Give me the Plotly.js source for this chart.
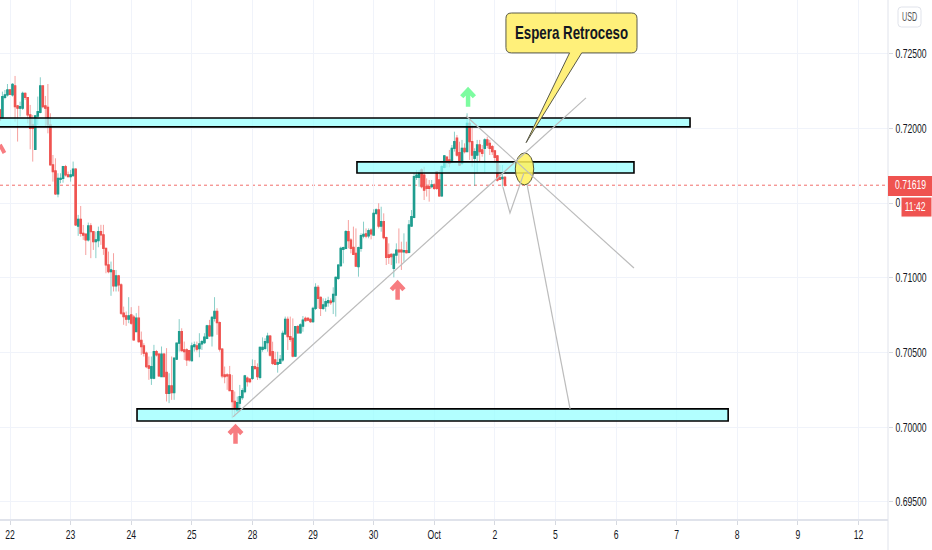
<!DOCTYPE html>
<html><head><meta charset="utf-8">
<script src="https://cdn.plot.ly/plotly-3.0.1.min.js"></script>
<style>html,body{margin:0;padding:0;background:#fff}#c{width:932px;height:550px}</style></head>
<body><div id="c"></div>
<script>
const firstHour = -4;
const opens = [.72123,.72067,.72207,.72223,.72256,.72223,.72283,.72149,.72134,.72134,.72234,.72205,.72089,.72022,.71859,.72082,.72107,.72283,.72149,.72140,.72022,.71755,.71714,.71561,.71658,.71665,.71743,.71688,.71677,.71683,.71726,.71346,.71391,.71297,.71291,.71253,
.71347,.71309,.71242,.71249,.71309,.71287,.71197,.71086,.71041,.71048,.70945,.71012,.70952,.70763,.70745,.70723,.70751,.70736,.70640,.70729,.70580,.70544,.70495,.70410,.70328,.70328,.70506,.70488,.70339,.70488,.70366,.70227,.70276,.70232,.70455,.70562,.70640,.70517,.70517,.70513,.70446,.70540,.70544,.70526,.70557,.70566,.70595,.70678,.70611,.70729,.70774,.70700,.70522,.70350,.70350,.70350,.70245,.70172,.70111,.70161,.70198,.70239,.70328,.70321,
.70327,.70405,.70398,.70334,.70521,.70528,.70566,.70610,.70505,.70450,.70423,.70427,.70450,.70624,.70722,.70606,.70595,.70476,.70673,.70632,.70677,.70728,.70728,.70722,.70706,.70795,.70936,.70869,.70795,.70811,.70833,.70844,.70840,.70884,.70996,.71081,.71190,.71197,.71308,.71252,.71203,.71163,.71074,.71197,.71279,.71293,.71281,.71319,.71286,.71431,.71453,.71346,.71375,.71268,.71152,.71156,.71063,.71152,.71185,.71185,.71174,.71181,.71170,.71346,
.71404,.71672,.71672,.71721,.71687,.71609,.71609,.71609,.71621,.71710,.71654,.71547,.71739,.71806,.71788,.71777,.71866,.71933,.71837,.71765,.71866,.71844,.72033,.71910,.71799,.71821,.71888,.71855,.71866,.71922,.71899,.71877,.71848,.71815,.71670,.71663,.71672];
const highs = [.72130,.72245,.72256,.72296,.72260,.72301,.72350,.72156,.72178,.72245,.72238,.72205,.72156,.72089,.72089,.72212,.72341,.72283,.72216,.72296,.72100,.71821,.71799,.71699,.71699,.71748,.71755,.71710,.71721,.71777,.71732,.71420,.71480,.71353,.71291,.71369,
.71365,.71309,.71309,.71342,.71354,.71354,.71197,.71175,.71108,.71164,.71052,.71019,.70963,.70807,.70774,.70870,.70803,.70751,.70763,.70812,.70640,.70562,.70506,.70473,.70473,.70551,.70517,.70495,.70540,.70495,.70529,.70361,.70473,.70462,.70562,.70723,.70662,.70573,.70528,.70517,.70566,.70573,.70573,.70629,.70584,.70629,.70685,.70718,.70745,.70870,.70796,.70707,.70528,.70406,.70361,.70410,.70350,.70239,.70205,.70283,.70261,.70350,.70339,.70328,
.70454,.70450,.70427,.70539,.70601,.70595,.70632,.70617,.70572,.70505,.70505,.70483,.70646,.70740,.70740,.70740,.70728,.70677,.70684,.70695,.70744,.70740,.70737,.70728,.70806,.70963,.70951,.70873,.70862,.70862,.70873,.70862,.70936,.71007,.71090,.71208,.71208,.71319,.71386,.71264,.71342,.71330,.71208,.71297,.71375,.71330,.71330,.71330,.71458,.71464,.71498,.71475,.71431,.71275,.71230,.71163,.71163,.71230,.71330,.71241,.71297,.71241,.71386,.71453,
.71699,.71721,.71721,.71732,.71743,.71665,.71654,.71654,.71632,.71710,.71721,.71754,.71821,.71810,.71855,.71888,.71977,.71955,.71910,.71922,.71899,.72100,.72067,.72022,.71866,.71922,.71922,.71888,.71933,.71944,.71922,.71888,.71855,.71821,.71754,.71754,.71681];
const lows = [.72050,.72067,.72194,.72212,.72223,.72212,.72044,.71911,.72078,.72123,.72189,.72033,.71859,.71777,.71855,.72022,.72100,.72134,.72011,.71966,.71755,.71643,.71554,.71538,.71632,.71636,.71677,.71672,.71643,.71677,.71346,.71280,.71275,.71253,.71152,.71242,
.71131,.71186,.71131,.71204,.71220,.71153,.71030,.71030,.70879,.70908,.70908,.70908,.70751,.70685,.70678,.70696,.70685,.70580,.70640,.70566,.70484,.70473,.70395,.70317,.70283,.70321,.70473,.70339,.70339,.70339,.70172,.70161,.70183,.70183,.70450,.70506,.70506,.70450,.70410,.70439,.70439,.70506,.70506,.70468,.70517,.70557,.70589,.70606,.70540,.70707,.70618,.70506,.70328,.70294,.70250,.70245,.70060,.70071,.70105,.70105,.70183,.70227,.70272,.70294,
.70316,.70383,.70316,.70320,.70505,.70516,.70505,.70472,.70416,.70416,.70365,.70427,.70438,.70617,.70517,.70572,.70467,.70472,.70628,.70628,.70639,.70706,.70710,.70699,.70699,.70784,.70795,.70744,.70784,.70773,.70806,.70818,.70757,.70740,.70985,.71074,.71096,.71190,.71197,.71163,.71152,.71074,.71007,.71174,.71264,.71264,.71264,.71257,.71286,.71420,.71330,.71308,.71257,.71085,.71092,.71085,.71003,.71096,.71096,.71052,.71107,.71163,.71163,.71342,
.71398,.71654,.71609,.71598,.71520,.71543,.71509,.71598,.71587,.71587,.71543,.71543,.71732,.71739,.71739,.71766,.71844,.71810,.71748,.71754,.71832,.71844,.71788,.71743,.71614,.71699,.71777,.71810,.71703,.71866,.71821,.71821,.71765,.71643,.71654,.71609,.71609];
const closes = [.72056,.72212,.72223,.72256,.72227,.72294,.72145,.72134,.72145,.72234,.72207,.72089,.72000,.72000,.72082,.72111,.72283,.72145,.72134,.72022,.71755,.71710,.71561,.71665,.71665,.71743,.71688,.71677,.71688,.71726,.71353,.71391,.71297,.71286,.71253,.71346,
.71309,.71242,.71253,.71309,.71287,.71197,.71086,.71041,.71052,.70945,.71012,.70952,.70763,.70740,.70723,.70745,.70696,.70584,.70729,.70573,.70540,.70495,.70406,.70395,.70406,.70506,.70484,.70343,.70488,.70339,.70227,.70276,.70232,.70462,.70562,.70640,.70513,.70506,.70450,.70450,.70544,.70551,.70522,.70557,.70573,.70602,.70678,.70611,.70734,.70774,.70700,.70522,.70343,.70339,.70343,.70245,.70172,.70127,.70165,.70205,.70245,.70343,.70305,.70305,
.70405,.70394,.70338,.70534,.70534,.70572,.70610,.70483,.70427,.70421,.70432,.70454,.70628,.70722,.70606,.70588,.70476,.70673,.70632,.70684,.70717,.70713,.70717,.70706,.70795,.70936,.70862,.70795,.70818,.70840,.70847,.70833,.70889,.71003,.71085,.71197,.71201,.71308,.71248,.71197,.71156,.71078,.71201,.71281,.71290,.71279,.71315,.71293,.71431,.71453,.71346,.71375,.71268,.71136,.71136,.71141,.71156,.71185,.71174,.71174,.71181,.71168,.71353,.71409,
.71676,.71687,.71703,.71609,.71587,.71598,.71598,.71621,.71598,.71598,.71547,.71743,.71815,.71770,.71766,.71866,.71910,.71821,.71754,.71866,.71844,.72033,.71910,.71821,.71844,.71888,.71844,.71832,.71922,.71888,.71866,.71844,.71806,.71654,.71658,.71672,.71619];

const dayTickHours = [0,24,48,72,96,120,144,168,192,216,240,264,288,312,336];
const dayTickLabels = ['22','23','24','25','28','29','30','Oct','2','5','6','7','8','9','12'];
const priceTicks = [0.695,0.70,0.705,0.71,0.715,0.72,0.725];
const priceTickLabels = ['0.69500','0.70000','0.70500','0.71000','0.71500','0.72000','0.72500'];
const lastPrice = 0.71619;
const lastPriceLabel = '0.71619';
const countdownLabel = '11:42';
const calloutLabel = 'Espera Retroceso';
const unitLabel = 'USD';

const zoneTop = [-10,269.3,.72069,.72009];
const zoneMid = [137.4,247.1,.71775,.71701];
const zoneLow = [50.3,284.4,.70123,.70042];
const riseLine = [[88.3,.70069],[228.1,.72203]];
const fallLine = [[180.6,.72082],[247.1,.71065]];
const zigLine = [[195.2,.71607],[198,.71433],[201.6,.71607],[203.5,.71700]];
const dropLine = [[204.8,.71621],[221.8,.70122]];
const circleBox = [200.1,207.4,.71835,.71621];
const calloutBox = [196.4,248.3,.72771,.72504];
const calloutTail = [[221.6,.72504],[204.4,.71904],[226.4,.72504]];
const redArrows = [[89.3,.70002],[153.5,.70965]];
const greenArrows = [[181.4,.72256]];
const leftArrowStroke = [[-4,.7189],[-2.2,.71835]];

const hours = opens.map((_, i) => i + firstHour);
const bodyHigh = opens.map((o, i) => Math.max(o, closes[i]));
const bodyLow = opens.map((o, i) => Math.min(o, closes[i]));
const UP = '#1f9d8f', DOWN = '#ef5350';
const rect = (b, fill, line) => ({type:'rect',xref:'x',yref:'y',x0:b[0],x1:b[1],y0:b[2],y1:b[3],fillcolor:fill,line:{color:line,width:1.6},layer:'above'});
const poly = (pts, color, width) => ({type:'path',xref:'x',yref:'y',path:'M'+pts.map(p=>p[0]+','+p[1]).join(' L'),line:{color:color,width:width},layer:'above'});
const arrow = (t, color) => ({type:'path',xref:'x',yref:'y',
  path:`M${t[0]},${t[1]-.00112} L${t[0]},${t[1]} M${t[0]-2.5},${t[1]-.00045} L${t[0]},${t[1]} L${t[0]+2.5},${t[1]-.00045}`,
  line:{color:color,width:4.5},layer:'above'});
const [cx0,cx1,cy1,cy0] = calloutBox, rx = 2.2, ry = .00036;
const calloutPath = `M${cx0+rx},${cy1} L${cx1-rx},${cy1} Q${cx1},${cy1} ${cx1},${cy1-ry} L${cx1},${cy0+ry} Q${cx1},${cy0} ${cx1-rx},${cy0} `+
  `L${calloutTail[2][0]},${calloutTail[2][1]} L${calloutTail[1][0]},${calloutTail[1][1]} L${calloutTail[0][0]},${calloutTail[0][1]} `+
  `L${cx0+rx},${cy0} Q${cx0},${cy0} ${cx0},${cy0+ry} L${cx0},${cy1-ry} Q${cx0},${cy1} ${cx0+rx},${cy1} Z`;

const W = 888, H = 519; // plot size in px, for converting the right-hand scale furniture to paper units
const px = v => v / W, py = v => (H - v) / H;
const roundedPx = (l, r, t, b, c) => {
  const L=px(l),R=px(r),T=py(t),B=py(b),dx=px(c),dy=c/H;
  return `M${L+dx},${T} L${R-dx},${T} Q${R},${T} ${R},${T-dy} L${R},${B+dy} Q${R},${B} ${R-dx},${B} L${L+dx},${B} Q${L},${B} ${L},${B+dy} L${L},${T-dy} Q${L},${T} ${L+dx},${T} Z`;
};
const FONT = 'Liberation Sans, Arial, sans-serif';
const shapes = [
  {type:'line',xref:'paper',yref:'y',x0:0,x1:1,y0:lastPrice,y1:lastPrice,line:{color:'rgba(239,83,80,.85)',width:1,dash:'dot'},layer:'below'},
  rect(zoneTop,'rgba(145,255,255,.7)','#000'),
  rect(zoneMid,'rgba(145,255,255,.7)','#000'),
  rect(zoneLow,'rgba(145,255,255,.7)','#000'),
  {type:'circle',xref:'x',yref:'y',x0:circleBox[0],x1:circleBox[1],y0:circleBox[2],y1:circleBox[3],fillcolor:'rgba(255,241,90,.85)',line:{color:'#55553a',width:1},layer:'above'},
  poly(riseLine,'#bcbcbc',1.2), poly(fallLine,'#bcbcbc',1.2), poly(zigLine,'#bcbcbc',1.2), poly(dropLine,'#bcbcbc',1.2),
  {type:'path',xref:'x',yref:'y',path:calloutPath,fillcolor:'#fff07a',line:{color:'#5a5a4a',width:1},layer:'above'},
  ...redArrows.map(a=>arrow(a,'#f77c80')), ...greenArrows.map(a=>arrow(a,'#7dfca0')),
  poly(leftArrowStroke,'#f77c80',4),
  {type:'line',xref:'paper',yref:'paper',x0:1,x1:1,y0:-0.06,y1:1,line:{color:'#e0e3eb',width:1},layer:'above'},
  {type:'rect',xref:'paper',yref:'y',x0:1,x1:px(932),y0:.71681,y1:.71547,fillcolor:'#ef5350',line:{width:0},layer:'above'},
  {type:'rect',xref:'paper',yref:'y',x0:px(901),x1:px(932),y0:.71540,y1:.71406,fillcolor:'#ef5350',line:{color:'#fff',width:1},layer:'above'},
  {type:'path',xref:'paper',yref:'paper',path:roundedPx(898,921,7,27,3.5),fillcolor:'#fff',line:{color:'#e0e3eb',width:1},layer:'above'}
];
const annotations = [
  {xref:'x',yref:'y',x:(cx0+cx1)/2,y:(cy0+cy1)/2,xanchor:'center',text:calloutLabel,showarrow:false,font:{family:FONT,size:18,color:'#131722',weight:700}},
  {xref:'paper',yref:'y',x:px(910),y:lastPrice,xanchor:'center',text:lastPriceLabel,showarrow:false,font:{family:FONT,size:12.5,color:'#fff'}},
  {xref:'paper',yref:'y',x:px(915),y:.71473,xanchor:'center',text:countdownLabel,showarrow:false,font:{family:FONT,size:12.5,color:'#fff'}},
  {xref:'paper',yref:'y',x:px(909.5),y:.72742,xanchor:'center',text:unitLabel,showarrow:false,font:{family:FONT,size:12,color:'#555'}}
];
const traces = [
  {type:'candlestick',x:hours,open:opens,high:highs,low:lows,close:closes,whiskerwidth:0,hoverinfo:'skip',
   increasing:{line:{color:'rgba(38,166,154,.55)',width:1},fillcolor:'rgba(38,166,154,.55)'},
   decreasing:{line:{color:'rgba(239,83,80,.55)',width:1},fillcolor:'rgba(239,83,80,.55)'}},
  {type:'candlestick',x:hours,open:opens,high:bodyHigh,low:bodyLow,close:closes,whiskerwidth:0,hoverinfo:'skip',
   increasing:{line:{color:UP,width:1.3},fillcolor:UP},
   decreasing:{line:{color:DOWN,width:1.3},fillcolor:DOWN}}
];
const layout = {
  width:932,height:550,margin:{l:0,r:44,t:0,b:31},paper_bgcolor:'#fff',plot_bgcolor:'#fff',showlegend:false,hovermode:false,
  font:{family:FONT,size:12.5,color:'#131722'},
  xaxis:{type:'linear',range:[-3.96,347.7],rangeslider:{visible:false},tickmode:'array',tickvals:dayTickHours,ticktext:dayTickLabels,
    showgrid:true,gridcolor:'#f0f3fa',gridwidth:1,zeroline:false,ticks:'outside',ticklen:4,tickcolor:'#d6d9e0',showline:true,linecolor:'#e0e3eb',linewidth:1.5,tickangle:0,
    tickfont:{size:12.5,color:'#131722'}},
  yaxis:{side:'right',range:[.69386,.72858],tickmode:'array',tickvals:priceTicks,ticktext:priceTickLabels,
    showgrid:true,gridcolor:'#f0f3fa',gridwidth:1,zeroline:false,ticks:'outside',ticklen:4,tickcolor:'#d6d9e0',showline:false,
    tickfont:{size:12.5,color:'#131722'}},
  shapes,annotations
};
// The reference's lettering is condensed; no narrow face is installed, so narrow the real text about its anchor.
const squeeze = (el, f) => {
  const x = parseFloat(el.getAttribute('x')) || 0;
  const prior = el.getAttribute('transform') || '';
  el.setAttribute('transform', `${prior} translate(${x} 0) scale(${f} 1) translate(${-x} 0)`);
};
Plotly.newPlot('c',traces,layout,{displayModeBar:false,staticPlot:true}).then(gd => {
  gd.querySelectorAll('.xtick text, .ytick text').forEach(t => squeeze(t, 0.69));
  gd.querySelectorAll('.annotation-text').forEach(t => {
    const s = t.textContent;
    squeeze(t, s === calloutLabel ? 0.74 : s === unitLabel ? 0.6 : 0.69);
  });
});
</script></body></html>
